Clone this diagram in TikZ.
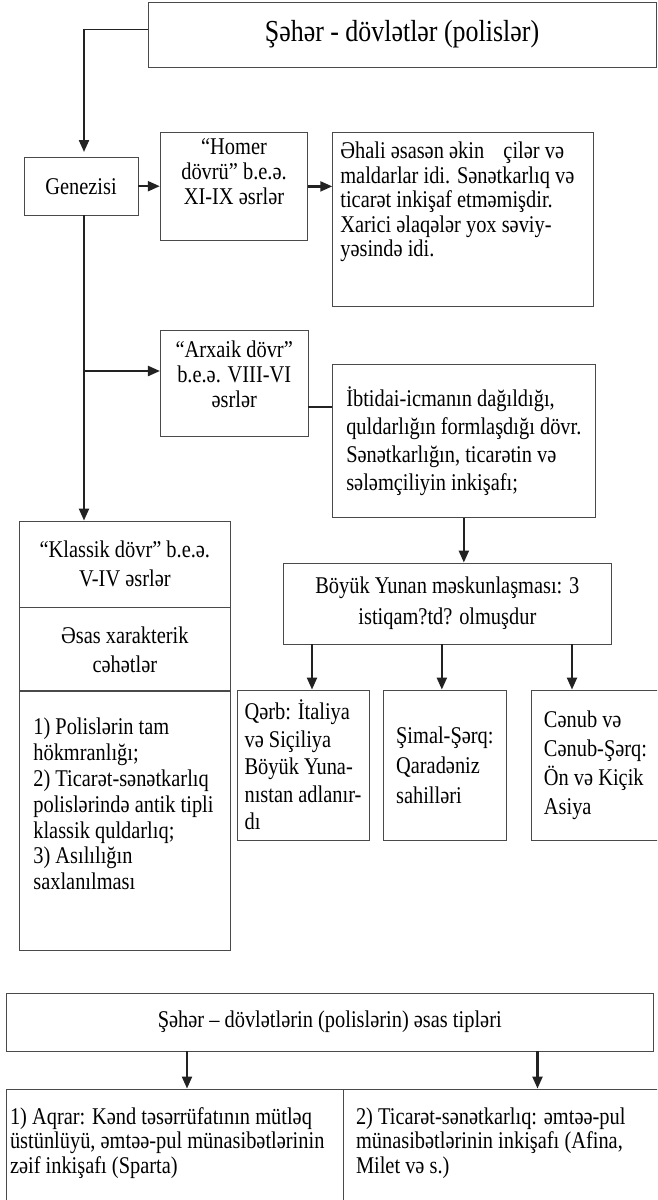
\documentclass[tikz,border=0pt]{standalone}
\usepackage{fontspec}
\setmainfont[FakeStretch=0.85]{Liberation Serif}
\usetikzlibrary{arrows.meta,positioning}
\definecolor{boxline}{HTML}{4A4A4A}
\definecolor{arrowline}{HTML}{222222}

\begin{document}
\begin{tikzpicture}[x=1pt, y=-1pt,
  box/.style={draw=boxline, line width=0.9pt, inner sep=0pt, font=\fontsize{24}{25}\selectfont},
  flow/.style={draw=arrowline, line width=2.2pt, -{Triangle[length=12pt,width=10pt]}},
  joint/.style={draw=arrowline, line width=2.2pt},
  hairline/.style={draw=arrowline, line width=0.9pt}
]
\useasboundingbox (0,0) rectangle (657,1200);
\clip (0,0) rectangle (657,1200);

% upper part
\node[box, minimum width=508pt, minimum height=65pt, font=\fontsize{30.5}{34}\selectfont] (polis) at (402,34.5) {Şəhər - dövlətlər (polislər)};
\node[box, minimum width=114pt, minimum height=57.5pt] (genezis) at (81,186.2) {Genezisi};
\node[box, minimum width=147.5pt, inner ysep=3.8pt] (homer) at (234,186.4)
  {\parbox[c][99.7pt][t]{140pt}{\centering\strut“Homer\\ dövrü” b.e.ə.\\ XI-IX əsrlər}};
\node[box, minimum width=260.3pt, inner ysep=8.8pt, font=\fontsize{24}{24.5}\selectfont] (ahali) at (462.85,219.35)
  {\parbox[c][155.7pt][t]{245pt}{\raggedright\strut Əhali əsasən əkin\hspace{0.8em}çilər və\\ maldarlar idi. Sənətkarlıq və\\ ticarət inkişaf etməmişdir.\\ Xarici əlaqələr yox səviy-\\ yəsində idi.}};
\node[box, minimum width=147.6pt, inner ysep=9.5pt] (arxaik) at (234.2,383.7)
  {\parbox[c][87pt][t]{140pt}{\centering\strut“Arxaik dövr”\\ b.e.ə. VIII-VI\\ əsrlər}};
\node[box, align=left, minimum width=262.3pt, minimum height=153.7pt, font=\fontsize{24}{28}\selectfont] (ibtidai) at (463.85,440.85)
  {İbtidai-icmanın dağıldığı,\\ quldarlığın formlaşdığı dövr.\\ Sənətkarlığın, ticarətin və\\ sələmçiliyin inkişafı;};
\node[box, align=center, minimum width=327.3pt, minimum height=81pt, font=\fontsize{24}{31}\selectfont] (boyuk) at (447.35,603.5)
  {Böyük Yunan məskunlaşması: 3\\ istiqam?td? olmuşdur};

% classical period column
\node[box, align=center, minimum width=211.7pt, minimum height=86pt, font=\fontsize{24}{29}\selectfont] (klassik) at (124.85,564)
  {“Klassik dövr” b.e.ə.\\ V-IV əsrlər};
\node[box, align=center, minimum width=211.7pt, minimum height=83pt, font=\fontsize{24}{29}\selectfont, below=0pt of klassik] (xarakter)
  {Əsas xarakterik\\ cəhətlər};
\node[box, minimum width=211.7pt, inner ysep=25pt, font=\fontsize{24}{25.8}\selectfont, below=0pt of xarakter] (cehet)
  {\parbox[c][209pt][t]{183pt}{\raggedright\strut 1) Polislərin tam\\ hökmranlığı;\\ 2) Ticarət-sənətkarlıq\\ polislərində antik tipli\\ klassik quldarlıq;\\ 3) Asılılığın\\ saxlanılması}};

% directions of colonisation
\node[box, align=left, minimum width=132pt, minimum height=150pt, font=\fontsize{24}{27.5}\selectfont] (qerb) at (303,765)
  {Qərb: İtaliya\\ və Siçiliya\\ Böyük Yuna-\\ nıstan adlanır-\\ dı};
\node[box, align=left, minimum width=122.3pt, minimum height=150pt, font=\fontsize{24}{30}\selectfont] (simal) at (444.85,765)
  {Şimal-Şərq:\\ Qaradəniz\\ sahilləri};
\node[box, align=left, minimum width=129pt, minimum height=150pt, font=\fontsize{24}{29}\selectfont] (cenub) at (595.5,765)
  {Cənub və\\ Cənub-Şərq:\\ Ön və Kiçik\\ Asiya};

% types of poleis
\node[box, minimum width=647.5pt, minimum height=58pt] (tipler) at (329.75,1022)
  {Şəhər – dövlətlərin (polislərin) əsas tipləri};
\node[box, minimum width=337.5pt, inner ysep=18pt, font=\fontsize{24}{24.5}\selectfont] (aqrar) at (174.75,1152)
  {\parbox[c][90pt][t]{329.5pt}{\raggedright\strut 1) Aqrar: Kənd təsərrüfatının mütləq\\ üstünlüyü, əmtəə-pul münasibətlərinin\\ zəif inkişafı (Sparta)}};
\node[box, minimum width=336.5pt, inner ysep=18pt, font=\fontsize{24}{24.5}\selectfont] (ticaret) at (511.75,1152)
  {\parbox[c][90pt][t]{311.5pt}{\raggedright\strut 2) Ticarət-sənətkarlıq: əmtəə-pul\\ münasibətlərinin inkişafı (Afina,\\ Milet və s.)}};

% connectors
\coordinate (turn) at (84,29);
\draw[hairline] ([yshift=5.5pt]polis.west) -- (turn);
\draw[flow, shorten >=5pt] (turn) -- (turn |- genezis.north);
\draw[flow] (turn |- genezis.south) -- (turn |- klassik.north);
\coordinate (arxaikin) at ([yshift=12.7pt]arxaik.west);
\draw[flow] (turn |- arxaikin) -- (arxaikin);
\draw[flow] (genezis.east) -- (homer.west |- genezis.east);
\draw[flow] (homer.east) -- (ahali.west |- homer.east);
\coordinate (arxaikout) at ([yshift=-23pt]arxaik.east);
\draw[joint] (arxaikout) -- (arxaikout -| ibtidai.west);
\draw[flow] (ibtidai.south) -- (ibtidai.south |- boyuk.north);
\foreach \dest/\dx in {qerb/9, simal/-3, cenub/-23.5}
  \draw[flow] ([xshift=\dx pt]\dest.north |- boyuk.south) -- ([xshift=\dx pt]\dest.north);
\foreach \dest/\dx in {aqrar/12.25, ticaret/25.75}
  \draw[flow] ([xshift=\dx pt]\dest.north |- tipler.south) -- ([xshift=\dx pt]\dest.north);
\end{tikzpicture}
\end{document}
